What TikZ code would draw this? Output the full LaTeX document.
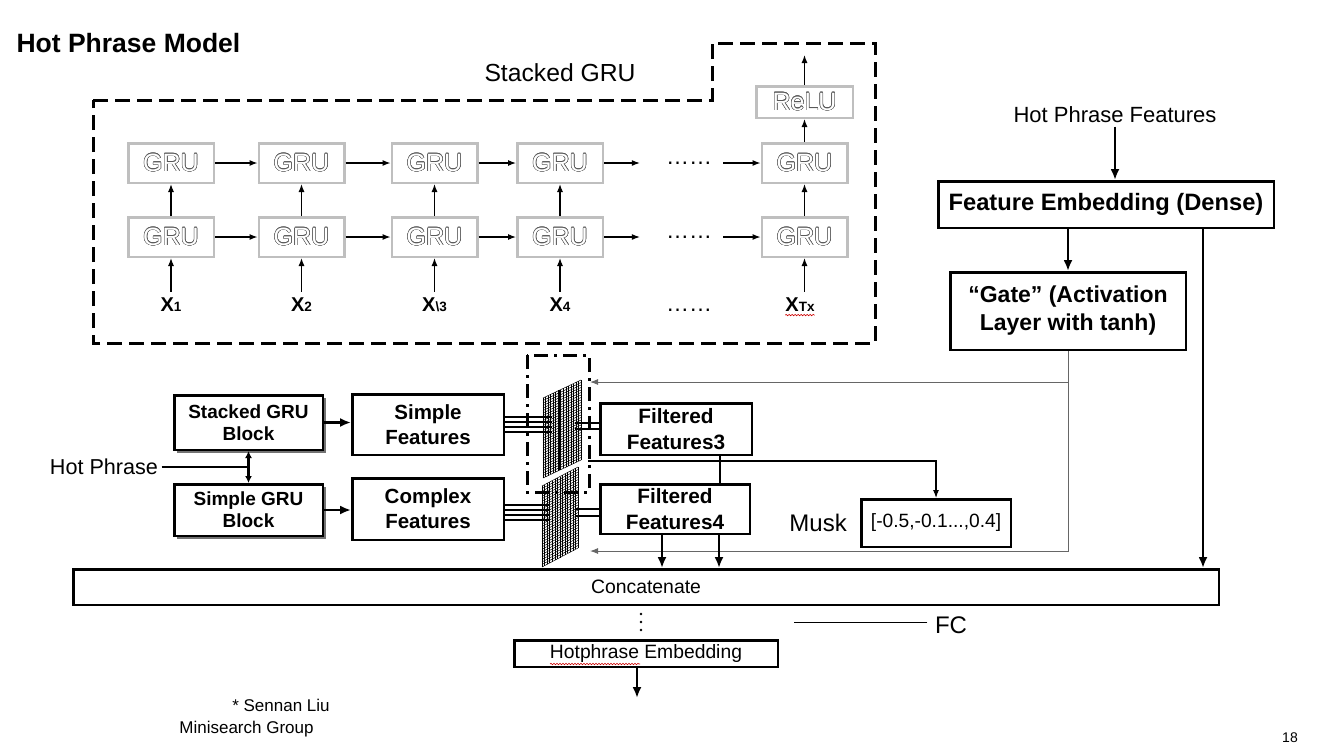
\documentclass[tikz,border=0pt]{standalone}
\usepackage{fontspec}
\setmainfont{Liberation Sans}
\usepackage[copies]{contour}
\contourlength{0.5pt}
\usetikzlibrary{arrows.meta,positioning,shadows,decorations.pathmorphing}

\newcommand{\fsz}[1]{\fontsize{#1}{#1}\selectfont}

\tikzset{
  grubox/.style={draw=black!25, line width=2.5pt, minimum width=85.5pt, minimum height=39.5pt, inner sep=0pt, text=white, font=\fsz{25}},
  blk/.style={draw, fill=white, line width=2.5pt, inner sep=0pt, align=center},
  boxshadow/.style={drop shadow={shadow xshift=3pt, shadow yshift=-3pt, fill=black!55, opacity=1}},
  lnk/.style={line width=1.1pt, ->},
  fat/.style={line width=2.6pt, -{Latex[length=11pt,width=9pt]}},
  fatline/.style={line width=2.6pt},
  gline/.style={draw=black!60, line width=1pt, ->},
  xlab/.style={inner sep=0pt, font=\bfseries},
  wavy/.style={draw=red!80!black, line width=0.6pt, decorate, decoration={snake, amplitude=0.7pt, segment length=3pt}},
}

\begin{document}
\begin{tikzpicture}[x=1pt, y=-1pt, >={Latex[length=8pt,width=6pt]}]
\useasboundingbox (0,0) rectangle (1329,747);

\node[anchor=west, font=\bfseries\fsz{26.5}] (title) at (13,43) {Hot Phrase Model};

% stacked GRU part
\draw[line width=3pt, dash pattern=on 15pt off 7pt] (93,100) -- (712,100) -- (712,43) -- (875,43) -- (875,343) -- (93,343) -- cycle;
\node[font=\fsz{24.7}] (sgrulab) at (560,73) {Stacked GRU};

\foreach \c/\x in {1/171,2/301.5,3/434.5,4/560,5/804.5}{
  \node[grubox] (gtop\c) at (\x,163) {\contour{black!65}{GRU}};
  \node[grubox] (gbot\c) at (\x,237) {\contour{black!65}{GRU}};
  \draw[lnk] (gbot\c) -- (gtop\c);
}
\foreach \a/\b in {1/2,2/3,3/4}{
  \draw[lnk] (gtop\a) -- (gtop\b);
  \draw[lnk] (gbot\a) -- (gbot\b);
}
\node[inner sep=0pt, font=\fsz{23}] (dtop) at (689,163) {……};
\node[inner sep=0pt, font=\fsz{23}] (dbot) at (689,237) {……};
\draw[lnk] (gtop4) -- ([xshift=-26pt]dtop.west);
\draw[lnk] ([xshift=11pt]dtop.east) -- (gtop5);
\draw[lnk] (gbot4) -- ([xshift=-26pt]dbot.west);
\draw[lnk] ([xshift=11pt]dbot.east) -- (gbot5);

\foreach \c/\x/\s in {1/171/1,2/301.5/2,3/434.5/\textbackslash 3,4/560/4}{
  \node[xlab] (x\c) at (\x,305) {{\fsz{20}X}{\fsz{13.5}\s}};
  \draw[lnk] ([yshift=6pt]x\c.north) -- (gbot\c);
}
\node[inner sep=0pt, font=\fsz{23}] (dlab) at (689,310) {……};
\node[xlab] (xT) at (800,305) {{\fsz{20}X}{\fsz{13.5}Tx}};
\draw[lnk] ([yshift=6pt]xT.north -| gbot5) -- (gbot5);
\draw[wavy] ([yshift=-3pt]xT.south west) -- ([yshift=-3pt]xT.south east);

\node[grubox, minimum width=96.5pt, minimum height=31.5pt] (relu) at (804.5,102) {\contour{black!65}{ReLU}};
\coordinate (reluout) at (804.5,55);
\draw[lnk] (gtop5) -- (relu);
\draw[lnk] (relu) -- (reluout);

% hot phrase features
\node[font=\fsz{22}] (hpf) at (1115,115) {Hot Phrase Features};
\node[blk, minimum width=335.5pt, minimum height=46.5pt, font=\bfseries\fsz{23.7}] (femb) at (1106,204.5) {Feature Embedding (Dense)};
\node[blk, minimum width=235.5pt, minimum height=77.5pt, font=\bfseries\fontsize{23}{28}\selectfont] (gate) at (1068,311) {“Gate” (Activation\\Layer with tanh)};

% left blocks
\node[blk, boxshadow, minimum width=148.5pt, minimum height=54.5pt, font=\bfseries\fontsize{19}{22}\selectfont] (sblock) at (248.5,422.5) {Stacked GRU\\Block};
\node[blk, boxshadow, minimum width=148.5pt, minimum height=51.5pt, font=\bfseries\fontsize{19}{22}\selectfont] (cblock) at (248.5,510) {Simple GRU\\Block};
\node[font=\fsz{21.6}] (hp) at (104,467) {Hot Phrase};
\coordinate (hpj) at (248.5,467);

\node[blk, minimum width=151.5pt, minimum height=60.5pt, font=\bfseries\fontsize{20.5}{25}\selectfont] (sfeat) at (428,424.5) {Simple\\Features};
\node[blk, minimum width=151.5pt, minimum height=61.5pt, font=\bfseries\fontsize{20.5}{25}\selectfont] (cfeat) at (428,509) {Complex\\Features};

% filter
\draw[line width=3pt, dash pattern=on 14pt off 6pt on 3pt off 6pt] (527,355) rectangle (589,492);
\node[blk, minimum width=151.5pt, minimum height=51.5pt, font=\bfseries\fontsize{20.8}{26}\selectfont] (ff3) at (676,429) {Filtered\\Features3};
\node[blk, minimum width=149.5pt, minimum height=49.5pt, font=\bfseries\fontsize{20.8}{26}\selectfont] (ff4) at (675,509) {Filtered\\Features4};

\node[blk, minimum width=149.5pt, minimum height=47.5pt, font=\fsz{19.2}] (mbox) at (936,523) {[-0.5,-0.1...,0.4]};
\node[font=\fsz{24}, inner sep=0pt, left=13pt of mbox] (musk) {Musk};

\node[blk, minimum width=1145.5pt, minimum height=35.5pt, font=\fsz{19.4}] (concat) at (646,587) {Concatenate};
\node[font=\fsz{24}] (fc) at (951,625) {FC};
\node[blk, minimum width=263.5pt, minimum height=26.5pt, font=\fsz{19.3}] (hemb) at (646,653.5) {Hotphrase Embedding};
\coordinate (hout) at (637,698);

\node[font=\fsz{17}] (auth) at (281,705) {* Sennan Liu};
\node[font=\fsz{17}] (grp) at (246.5,729) {Minisearch Group};
\node[font=\fsz{14}] (pg) at (1290,738) {18};

% connectors
\draw[fat] (hpf.south) -- (hpf.south |- femb.north);
\draw[fat] (gate.north |- femb.south) -- (gate);
\draw[fat] ([xshift=97pt]femb.south) -- ([xshift=97pt]femb.south |- concat.north);
\coordinate (gtip1) at (590,382);
\coordinate (gtip2) at (590,551);
\draw[gline] (gate.south) |- (gtip2);
\draw[gline] (gate.south |- gtip1) -- (gtip1);

\draw[fatline] (hp.east) -- (hpj);
\draw[line width=2.6pt, -{Latex[length=7pt,width=7pt]}] (hpj) -- (sblock);
\draw[line width=2.6pt, -{Latex[length=7pt,width=7pt]}] (hpj) -- (cblock);
\draw[fat] (sblock.east) -- (sblock.east -| sfeat.west);
\draw[fat] (cblock.east) -- (cblock.east -| cfeat.west);

\foreach \d in {7.5,2.5,-2.5,-7.5} \draw[line width=1.5pt] ([yshift=\d pt]sfeat.east) -- ++(47,0);
\foreach \d in {4,-1,-6,-11} \draw[line width=1.5pt] ([yshift=\d pt]cfeat.east) -- ++(44,0);
\foreach \d in {6,0} \draw[line width=1.5pt] ([yshift=\d pt]ff3.west) -- ++(-24,0);
\foreach \d in {0,-7} \draw[line width=1.5pt] ([yshift=\d pt]ff4.west) -- ++(-24,0);

% mesh
\begin{scope}[shift={(543,478)}, x={(38pt,18pt)}, y={(0pt,80pt)}, line width=0.5pt]
  \foreach \i in {0,...,15} \draw (\i/15,0) -- (\i/15,1);
  \foreach \j in {0,...,32} \draw (0,\j/32) -- (1,\j/32);
  \draw[line width=1.2pt] (0.42,0) -- (0.42,1);
\end{scope}
\begin{scope}[shift={(542,567)}, x={(36pt,19pt)}, y={(0pt,81pt)}, line width=0.5pt]
  \foreach \i in {0,...,14} \draw (\i/14,0) -- (\i/14,1);
  \foreach \j in {0,...,32} \draw (0,\j/32) -- (1,\j/32);
\end{scope}

\draw[fatline] ([xshift=44pt]ff3.south) -- ([xshift=44pt]ff3.south |- ff4.north);
\draw[fat] ([xshift=-13pt]ff4.south) -- ([xshift=-13pt]ff4.south |- concat.north);
\draw[fat] ([xshift=44pt]ff4.south) -- ([xshift=44pt]ff4.south |- concat.north);
\coordinate (fsplit) at (588,461);
\draw[lnk] (fsplit) -| (mbox);

\foreach \k in {614,622,630} \fill (641,\k) circle (1.4pt);
\draw[line width=1pt] ([xshift=-4pt,yshift=3pt]fc.west) -- ++(-133,0);
\draw[wavy] (550,664) -- (640,664);
\draw[fat] (hemb.south -| hout) -- (hout);
\end{tikzpicture}
\end{document}
